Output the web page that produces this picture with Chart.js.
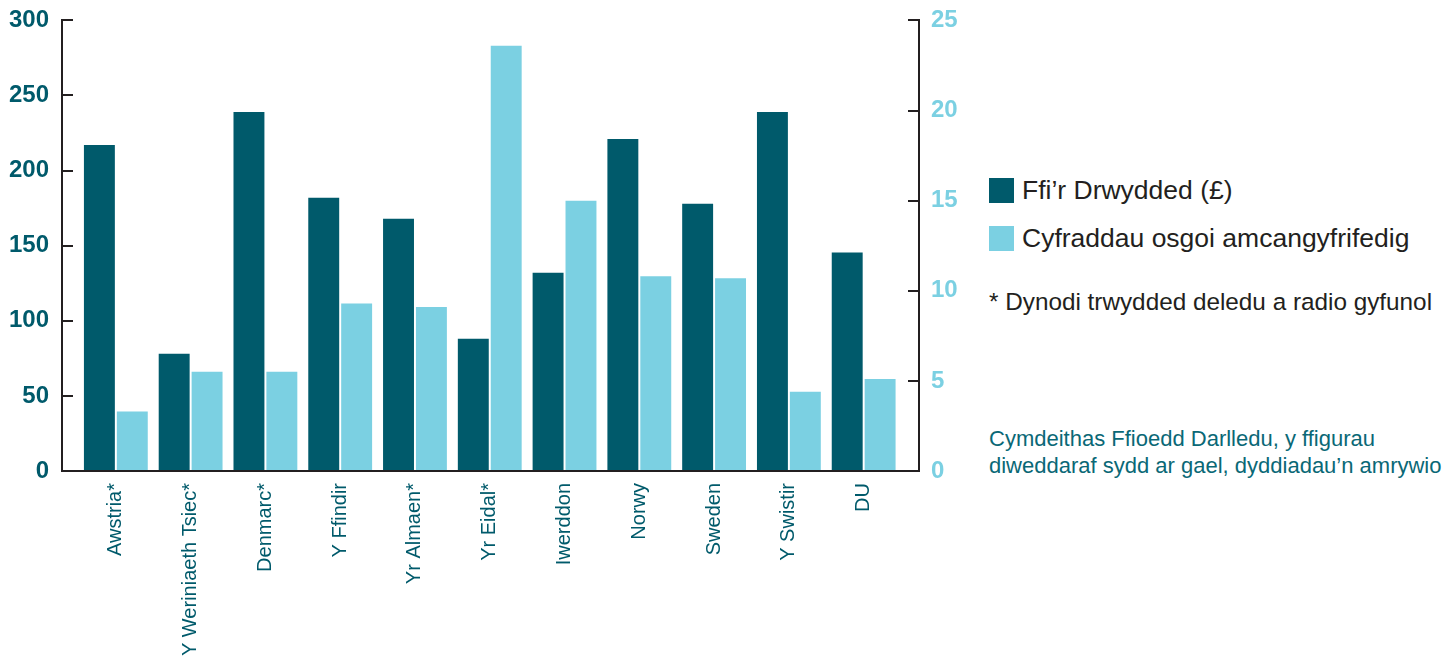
<!DOCTYPE html>
<html>
<head>
<meta charset="utf-8">
<script src="https://cdn.jsdelivr.net/npm/chart.js@4"></script>
<style>
  body { margin: 0; background: #fff; width: 1446px; height: 656px; overflow: hidden; font-family: 'Liberation Sans', Arial, sans-serif; }
  #wrap { position: absolute; left: 0; top: -18px; width: 975px; height: 674px; }
  .sw { position: absolute; left: 989px; width: 25px; height: 25px; }
  .txt { position: absolute; left: 1022px; font-size: 26.5px; color: #231f20; white-space: nowrap; line-height: 30px; }
  .note { position: absolute; left: 989px; top: 287px; font-size: 24.3px; color: #231f20; white-space: nowrap; line-height: 30px; }
  .src { position: absolute; left: 989px; top: 425px; font-size: 22px; color: #0a6876; line-height: 27px; white-space: nowrap; }
</style>
</head>
<body>
<div id="wrap"><canvas id="chart"></canvas></div>
<div class="sw" style="top:178px;background:#005a6b"></div>
<div class="txt" style="top:175px">Ffi’r Drwydded (£)</div>
<div class="sw" style="top:226px;background:#7bd0e2"></div>
<div class="txt" style="top:223px">Cyfraddau osgoi amcangyfrifedig</div>
<div class="note">* Dynodi trwydded deledu a radio gyfunol</div>
<div class="src">Cymdeithas Ffioedd Darlledu, y ffigurau<br>diweddaraf sydd ar gael, dyddiadau’n amrywio</div>
<script>
// gwledydd
const countries = ['Awstria*', 'Y Weriniaeth Tsiec*', 'Denmarc*', 'Y Ffindir', 'Yr Almaen*', 'Yr Eidal*', 'Iwerddon', 'Norwy', 'Sweden', 'Y Swistir', 'DU'];
// ffi'r drwydded (£) - echel chwith
const licenceFee = [217, 78, 239, 182, 168, 88, 132, 221, 178, 239, 145.5];
// cyfraddau osgoi (%) - echel dde
const evasionRate = [3.3, 5.5, 5.5, 9.3, 9.1, 23.6, 15.0, 10.8, 10.7, 4.4, 5.1];
const leftTicks = [0, 50, 100, 150, 200, 250, 300];
const rightTicks = [0, 5, 10, 15, 20, 25];

const dark = '#005a6b';
const light = '#7bd0e2';
const axisCol = '#231f20';

const toPoints = arr => arr.map((v, i) => ({ x: i, y: v }));

const ctx = document.getElementById('chart').getContext('2d');
new Chart(ctx, {
  type: 'bar',
  data: {
    datasets: [
      { label: 'Ffi’r Drwydded (£)', data: toPoints(licenceFee), backgroundColor: dark, yAxisID: 'y', categoryPercentage: 0.88, barPercentage: 0.94 },
      { label: 'Cyfraddau osgoi amcangyfrifedig', data: toPoints(evasionRate), backgroundColor: light, yAxisID: 'y1', categoryPercentage: 0.88, barPercentage: 0.94 }
    ]
  },
  options: {
    responsive: true,
    maintainAspectRatio: false,
    animation: false,
    layout: { padding: { top: 3, left: 0, right: 0, bottom: 0 } },
    plugins: { legend: { display: false }, tooltip: { enabled: false } },
    scales: {
      x: {
        type: 'linear',
        offset: false,
        min: -0.72,
        max: 10.74,
        grid: { display: false, drawTicks: false, offset: false },
        border: { display: true, color: axisCol, width: 2 },
        afterFit: s => { s.height = 185; },
        afterBuildTicks: s => { s.ticks = countries.map((c, i) => ({ value: i })); },
        ticks: {
          autoSkip: false,
          minRotation: 90,
          maxRotation: 90,
          padding: 12,
          color: dark,
          font: { family: 'Liberation Sans', size: 20 },
          callback: v => countries[v] || ''
        }
      },
      y: {
        position: 'left',
        min: 0,
        max: 300,
        afterFit: s => { s.width = 62; },
        afterBuildTicks: s => { s.ticks = leftTicks.map(v => ({ value: v })); },
        grid: { drawOnChartArea: false, tickLength: -11, color: axisCol, lineWidth: 2 },
        border: { display: true, color: axisCol, width: 2 },
        ticks: { padding: 24, color: dark, font: { family: 'Liberation Sans', size: 24, weight: 'bold' } }
      },
      y1: {
        position: 'right',
        min: 0,
        max: 25,
        afterFit: s => { s.width = 56; },
        afterBuildTicks: s => { s.ticks = rightTicks.map(v => ({ value: v })); },
        grid: { drawOnChartArea: false, tickLength: -11, color: axisCol, lineWidth: 2 },
        border: { display: true, color: axisCol, width: 2 },
        ticks: { padding: 23, color: light, font: { family: 'Liberation Sans', size: 24, weight: 'bold' } }
      }
    }
  }
});
</script>
</body>
</html>
